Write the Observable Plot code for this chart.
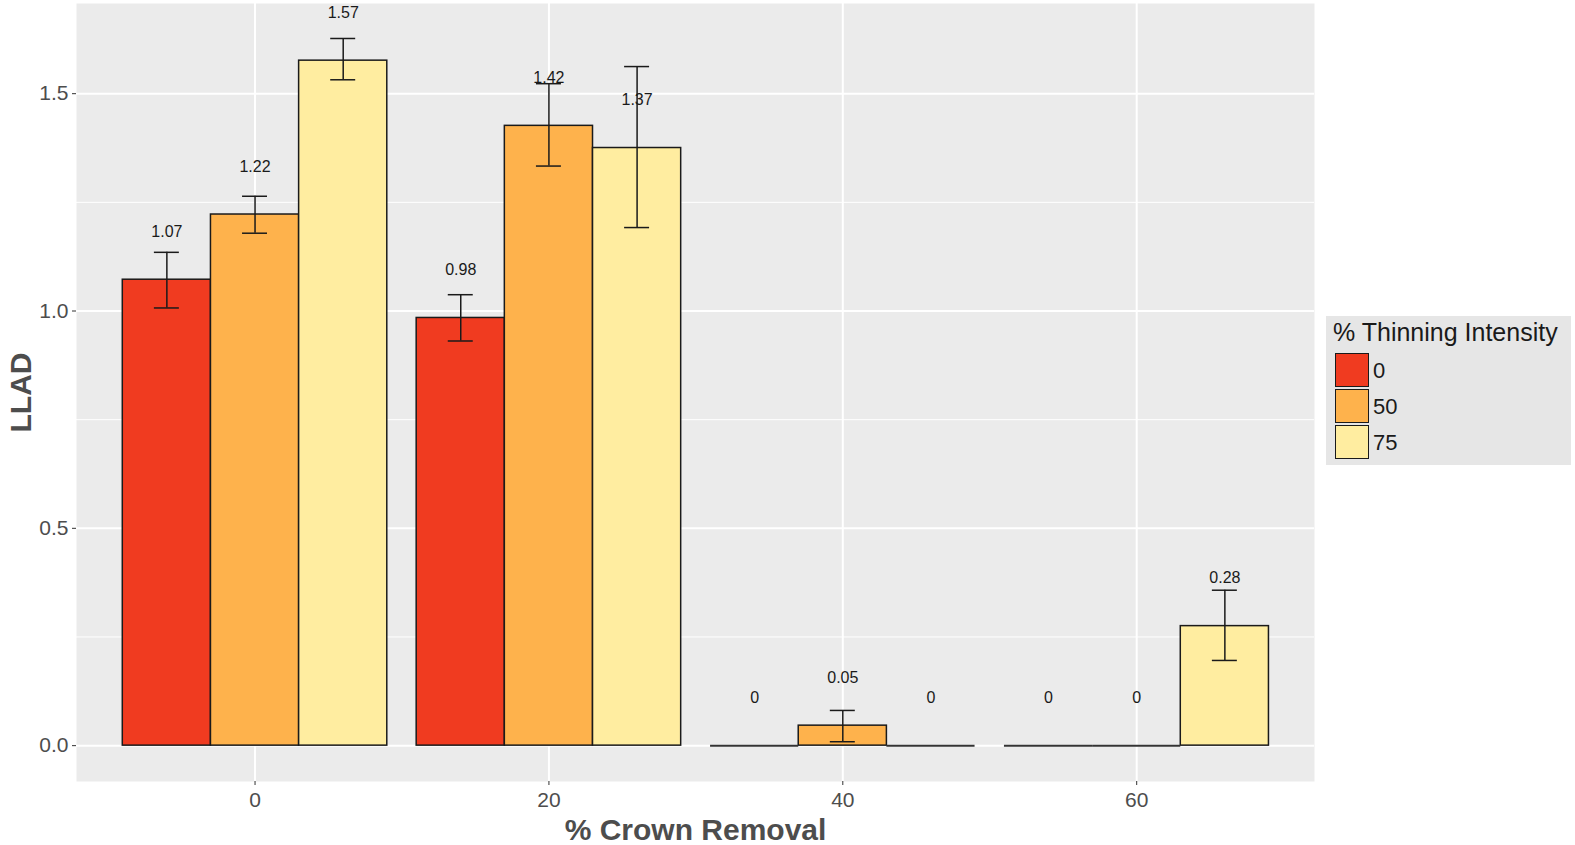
<!DOCTYPE html>
<html><head><meta charset="utf-8">
<script src="https://cdn.jsdelivr.net/npm/d3@7"></script>
<script src="https://cdn.jsdelivr.net/npm/@observablehq/plot@0.6"></script>
<style>
body{margin:0;background:#fff;font-family:"Liberation Sans",Arial,sans-serif;}
#wrap{position:relative;width:1575px;height:845px;overflow:hidden;}
#wrap svg{position:absolute;left:0;top:0;}
#legend{position:absolute;left:1326px;top:316px;width:245px;height:149px;background:#e6e6e6;}
#legend .ttl{position:absolute;left:7px;top:2px;font-size:25px;color:#1a1a1a;white-space:nowrap;}
#legend .key{position:absolute;left:9px;width:32px;height:32px;border:1.5px solid #1a1a1a;}
#legend .lab{position:absolute;left:47px;font-size:22px;color:#1a1a1a;line-height:35px;}
</style></head><body><div id="wrap"></div>
<script>
// categories
const crownLevels = [0, 20, 40, 60];
const thinningLevels = ["0", "50", "75"];
// mean LLAD per thinning intensity (one value per crown removal level)
const llad0  = [1.072, 0.984, 0, 0];
const llad50 = [1.222, 1.426, 0.046, 0];
const llad75 = [1.576, 1.375, 0, 0.275];
// error bar lower / upper limits
const lower0  = [1.007, 0.931, 0, 0];
const upper0  = [1.135, 1.0375, 0, 0];
const lower50 = [1.179, 1.3335, 0.009, 0];
const upper50 = [1.264, 1.523, 0.081, 0];
const lower75 = [1.532, 1.192, 0, 0.196];
const upper75 = [1.627, 1.5624, 0, 0.3576];
// printed value labels
const labels0  = ["1.07", "0.98", "0", "0"];
const labels50 = ["1.22", "1.42", "0.05", "0"];
const labels75 = ["1.57", "1.37", "0", "0.28"];
// axis ticks
const yMajor = [0, 0.5, 1.0, 1.5];
const yMinor = [0.25, 0.75, 1.25];

const barColors = ["#f03b20", "#feb24c", "#ffeda0"];
const dodgeWidth = 18;  // total group width in x units
const capHalf = 0.85;   // half width of error bar caps, x units

const series = [
  {t: "0", v: llad0, lo: lower0, hi: upper0, lab: labels0},
  {t: "50", v: llad50, lo: lower50, hi: upper50, lab: labels50},
  {t: "75", v: llad75, lo: lower75, hi: upper75, lab: labels75}
];
const barW = dodgeWidth / series.length;
const rows = [];
series.forEach((s, i) => {
  crownLevels.forEach((c, j) => {
    const x1 = c - dodgeWidth / 2 + i * barW;
    rows.push({crown: c, thinning: s.t, value: s.v[j], lower: s.lo[j], upper: s.hi[j],
      label: s.lab[j], x1, x2: x1 + barW, xc: x1 + barW / 2});
  });
});
const nonZero = rows.filter(d => d.value > 0);
const zeros = rows.filter(d => d.value === 0);

const ink = "#1a1a1a";
const plot = Plot.plot({
  width: 1575, height: 845,
  marginLeft: 76, marginRight: 261, marginTop: 3, marginBottom: 64,
  style: {fontFamily: "Liberation Sans, Arial, sans-serif", background: "transparent"},
  x: {domain: [-12.15, 72.1]},
  y: {domain: [-0.0825, 1.7075]},
  color: {domain: thinningLevels, range: barColors},
  marks: [
    Plot.frame({fill: "#ebebeb", stroke: "none"}),
    Plot.ruleY(yMinor, {y: d => d, stroke: "#fff", strokeWidth: 1}),
    Plot.ruleY(yMajor, {y: d => d, stroke: "#fff", strokeWidth: 2}),
    Plot.ruleX(crownLevels, {x: d => d, stroke: "#fff", strokeWidth: 2}),
    Plot.rect(nonZero, {x1: "x1", x2: "x2", y1: d => 0, y2: "value", fill: "thinning", stroke: ink, strokeWidth: 1.5}),
    Plot.ruleY(zeros, {y: d => 0, x1: "x1", x2: "x2", stroke: "#333", strokeWidth: 2}),
    Plot.ruleX(nonZero, {x: "xc", y1: "lower", y2: "upper", stroke: ink, strokeWidth: 1.5}),
    Plot.ruleY(nonZero, {y: "lower", x1: d => d.xc - capHalf, x2: d => d.xc + capHalf, stroke: ink, strokeWidth: 1.5}),
    Plot.ruleY(nonZero, {y: "upper", x1: d => d.xc - capHalf, x2: d => d.xc + capHalf, stroke: ink, strokeWidth: 1.5}),
    Plot.text(rows, {x: "xc", y: "value", text: "label", dy: -48, fontSize: 16, fill: ink}),
    Plot.axisY({ticks: yMajor, tickFormat: d3.format(".1f"), tickSize: 4, tickPadding: 4, fontSize: 21, fill: "#4d4d4d", stroke: "#333", label: null}),
    Plot.axisX({ticks: crownLevels, tickFormat: d => String(d), tickSize: 4, tickPadding: 7, fontSize: 21, fill: "#4d4d4d", stroke: "#333", label: null}),
    Plot.text(["LLAD"], {text: d => d, frameAnchor: "left", textAnchor: "middle", lineAnchor: "middle", dx: -55, rotate: -90, fontSize: 30, fontWeight: "bold", fill: "#4d4d4d"}),
    Plot.text(["% Crown Removal"], {text: d => d, frameAnchor: "bottom", textAnchor: "middle", lineAnchor: "middle", dy: 49, fontSize: 30, fontWeight: "bold", fill: "#4d4d4d"})
  ]
});
const wrap = document.getElementById("wrap");
wrap.appendChild(plot);

// legend
const leg = document.createElement("div");
leg.id = "legend";
leg.innerHTML = `<div class="ttl">% Thinning Intensity</div>` +
  thinningLevels.map((t, i) =>
    `<div class="key" style="top:${37 + i * 36}px;background:${barColors[i]}"></div>` +
    `<div class="lab" style="top:${37 + i * 36}px">${t}</div>`).join("");
wrap.appendChild(leg);
</script>
</body></html>
